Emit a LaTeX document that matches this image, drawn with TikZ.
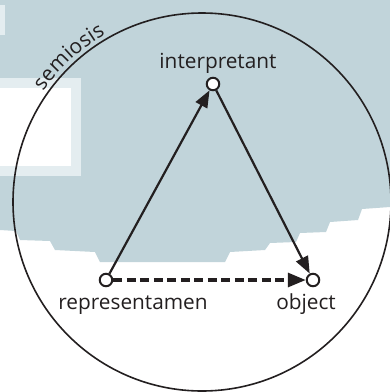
\documentclass[tikz,border=0pt]{standalone}
\usepackage{fontspec}
\setmainfont{Open Sans}
\usepackage{tikz}
\usetikzlibrary{positioning, arrows.meta, decorations.text}

\definecolor{ink}{RGB}{35, 31, 32}
\definecolor{haze}{RGB}{193, 212, 218}
\definecolor{hazeLight}{RGB}{228, 237, 240}
\newcommand{\lblfont}{\fontsize{20.8}{24}\selectfont}

\begin{document}
\begin{tikzpicture}[
    x=1pt, y=1pt,
    vertex/.style={circle, draw=ink, fill=white, line width=2pt,
                   minimum size=12.5pt, inner sep=0pt},
    lbl/.style={font=\lblfont, text=ink, anchor=base, inner sep=0pt},
    rel/.style={-{Triangle[length=17pt, width=13pt]}, line width=2.2pt, ink},
    relDashed/.style={-{Triangle[length=18pt, width=14pt]}, line width=3.2pt, ink,
                      dash pattern=on 9pt off 4.5pt},
  ]
    \useasboundingbox (0,0) rectangle (390,-392);

    % Background patches
    \fill[white] (0,0) rectangle (390,-392);
    \fill[haze] (0,0) -- (390,0) -- (390,-207) -- (362,-209) -- (358,-220)
      -- (330,-222) -- (326,-232) -- (300,-233) -- (296,-242) -- (270,-243)
      -- (265,-250) -- (230,-252) -- (225,-262) -- (100,-262) -- (95,-252)
      -- (55,-250) -- (50,-241) -- (20,-240) -- (16,-231) -- (0,-230) -- cycle;
    \fill[hazeLight] (0,-5) rectangle (5,-35);
    \fill[hazeLight] (0,-78) rectangle (81,-176);
    \fill[white] (0,-88) rectangle (71,-166);

    % Semiosis circle
    \coordinate (C) at (202,-202);
    \draw[ink, line width=1.6pt] (C) circle[radius=189pt];
    \path[decorate, decoration={text along path, text align=center, raise=4.5pt,
        text={|\lblfont\color{ink}|semiosis}}]
      (C) ++(150:189pt) arc[start angle=150, end angle=115, radius=189pt];

    % Triangle vertices
    \node[vertex] (I) at (213,-84) {};
    \node[vertex] (R) at (106,-280) {};
    \node[vertex] (O) at (313,-280) {};

    % Labels
    \node[lbl] (Ilbl) at (218,-68) {interpretant};
    \node[lbl] (Rlbl) at (133,-309) {representamen};
    \node[lbl] (Olbl) at (306,-309) {object};

    % Relations
    \draw[rel] (R) -- (I);
    \draw[rel] (I) -- (O);
    \draw[relDashed] (R) -- (O);
\end{tikzpicture}
\end{document}
